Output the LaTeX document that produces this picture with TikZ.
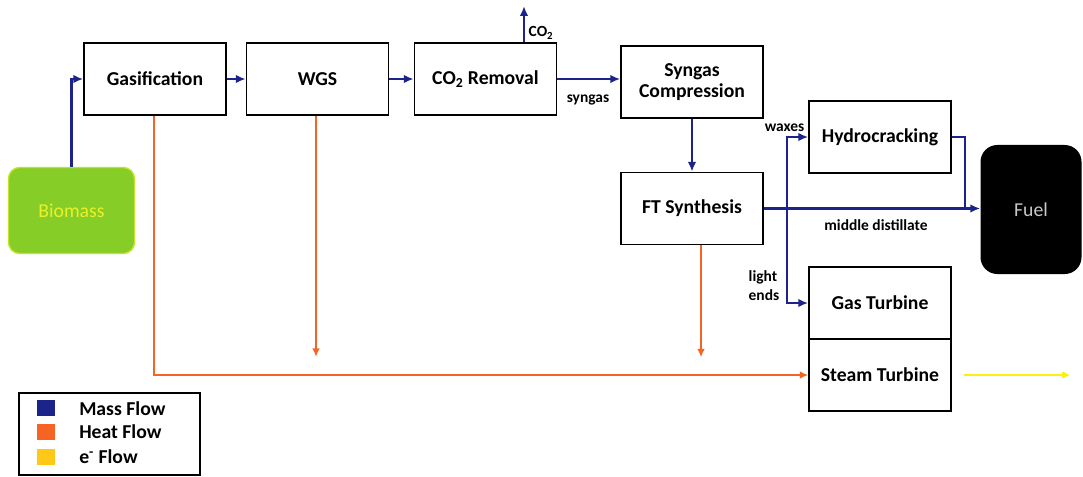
\documentclass[tikz,border=0pt]{standalone}
\usepackage{fontspec}
\setmainfont{Carlito}
\usetikzlibrary{arrows.meta, positioning, calc}
\definecolor{massblue}{RGB}{28, 36, 140}
\definecolor{heatorange}{RGB}{245, 100, 35}
\definecolor{elecyellow}{RGB}{250, 240, 20}
\definecolor{legyellow}{RGB}{255, 200, 25}
\definecolor{biogreen}{RGB}{135, 205, 40}
\definecolor{bioyellow}{RGB}{235, 240, 40}
\definecolor{fuelgray}{RGB}{200, 200, 200}
\tikzset{
  proc/.style    = {rectangle, draw=black, line width=1.1pt, fill=white, minimum width=3.55cm, minimum height=1.8cm, align=center, font=\fontsize{14}{15}\selectfont\bfseries},
  feed/.style    = {rectangle, rounded corners=8pt, draw=bioyellow!60!biogreen, line width=1pt, fill=biogreen, minimum width=3.15cm, minimum height=2.15cm, text=bioyellow, font=\fontsize{14}{15}\selectfont},
  product/.style = {rectangle, rounded corners=12pt, fill=black, minimum width=2.5cm, minimum height=3.2cm, text=fuelgray, font=\fontsize{14}{15}\selectfont},
  mflow/.style   = {-{Latex[length=7pt,width=6pt]}, line width=1.6pt, massblue},
  mline/.style   = {line width=1.6pt, massblue},
  hflow/.style   = {-{Latex[length=6pt,width=5.5pt]}, line width=1.4pt, heatorange},
  eflow/.style   = {-{Latex[length=6pt,width=6pt,round]}, line width=1.8pt, elecyellow},
  lbl/.style     = {font=\fontsize{11}{13.5}\selectfont\bfseries, inner sep=1pt},
  legsq/.style   = {rectangle, minimum width=0.45cm, minimum height=0.4cm, inner sep=0pt},
  legtxt/.style  = {anchor=west, inner sep=0pt, font=\fontsize{14}{15}\selectfont\bfseries},
}

\begin{document}
\begin{tikzpicture}[x=0.025cm, y=-0.025cm]
  % frame in pixels of the reference
  \useasboundingbox (0,0) rectangle (1083,476);

  % process units
  \node[feed] (bio) at (71.5,210.5) {Biomass};
  \node[proc] (gas) at (155,79) {Gasification};
  \node[proc] (wgs) at (317.5,79) {WGS};
  \node[proc] (co2r) at (485.5,79) {CO\textsubscript{2} Removal};
  \node[proc] (sync) at (692,82) {Syngas\\Compression};
  \node[proc] (ft) at (692,208.5) {FT Synthesis};
  \node[proc] (hc) at (880,137) {Hydrocracking};
  \node[proc] (gt) at (880,303) {Gas Turbine};
  \node[proc] (st) at (880,375) {Steam Turbine};
  \node[product, minimum width=2.525cm, minimum height=3.225cm] (fuel) at (1031,209.5) {Fuel};

  % mass flow
  \draw[mflow] (bio.north) |- (gas.west);
  \draw[mflow] (gas.east) -- (wgs.west);
  \draw[mflow] (wgs.east) -- (co2r.west);
  \coordinate (co2out) at (524,6);
  \draw[mflow] (co2out |- co2r.north) -- (co2out);
  \node[lbl, anchor=west] (co2lbl) at (527,33) {CO\textsubscript{2}};
  \draw[mflow] (co2r.east) -- (co2r.east -| sync.west);
  \node[lbl] (synlbl) at (588,100) {syngas};
  \draw[mflow] (sync.south) -- (ft.north);

  % FT products
  \coordinate (jn) at (787,208.5);
  \coordinate (hcdrop) at (965,208.5);
  \draw[mflow] (ft.east) -- (ft.east -| fuel.west);
  \draw[mflow] (jn) |- (hc.west);
  \draw[mflow] (jn) |- (gt.west);
  \draw[mline] (hc.east) -| (hcdrop);
  \node[lbl, anchor=east] (waxlbl) at (806,128) {waxes};
  \node[lbl] (mdlbl) at (876,225) {middle distillate};
  \node[lbl, align=left, anchor=west] (lelbl) at (747,286) {light\\ends};

  % heat flow
  \draw[hflow] ([xshift=-0.025cm]gas.south) |- (st.west);
  \draw[hflow] ([xshift=-0.0375cm]wgs.south) -- ++(0,241);
  \draw[hflow] ([xshift=0.225cm]ft.south) -- ++(0,112);

  % electricity
  \draw[eflow] ([xshift=0.3cm]st.east) -- ++(105,0);

  % legend
  \node[draw, line width=1.1pt, minimum width=4.525cm, minimum height=2.05cm] (legend) at (109.5,434) {};
  \node[legsq, fill=massblue] (sqm) at (46,408) {};
  \node[legsq, fill=heatorange] (sqh) at (46,432) {};
  \node[legsq, fill=legyellow] (sqe) at (46,457) {};
  \node[legtxt] (txm) at (79,409) {Mass Flow};
  \node[legtxt] (txh) at (79,432) {Heat Flow};
  \node[legtxt] (txe) at (79,457) {e\textsuperscript{-} Flow};
\end{tikzpicture}
\end{document}
